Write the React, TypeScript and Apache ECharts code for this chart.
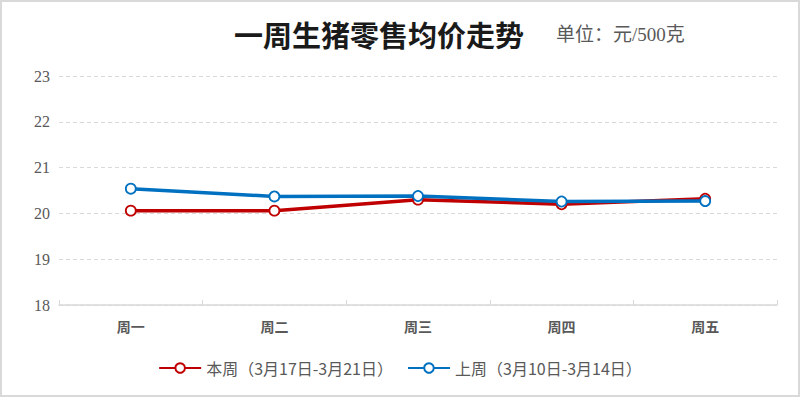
import React, { useEffect, useRef } from "react";
import * as echarts from "echarts";

const categories = ["周一", "周二", "周三", "周四", "周五"];
const thisWeek = [20.06, 20.06, 20.3, 20.2, 20.32];
const lastWeek = [20.54, 20.37, 20.38, 20.26, 20.27];
const seriesNames = ["本周（3月17日-3月21日）", "上周（3月10日-3月14日）"];
const titleText = "一周生猪零售均价走势";
const unitText = "单位：元/500克";

export default function App() {
  const ref = useRef<HTMLDivElement>(null);
  useEffect(() => {
    if (!ref.current) return;
    const chart = echarts.init(ref.current, null, { renderer: "svg" });
    const cjk = "'Noto Sans CJK SC', sans-serif";
    const serif = "'Liberation Serif', 'Noto Sans CJK SC', serif";
    const mkSeries = (name: string, data: number[], color: string) => ({
      name,
      type: "line",
      data,
      symbol: "circle",
      symbolSize: 10,
      showSymbol: true,
      lineStyle: { color, width: 3.5 },
      itemStyle: { color: "#ffffff", borderColor: color, borderWidth: 1.8 },
      z: name === seriesNames[0] ? 2 : 3,
    });
    chart.setOption({
      animation: false,
      backgroundColor: "#ffffff",
      graphic: [
        {
          type: "rect",
          shape: { x: 1, y: 1, width: 798, height: 395 },
          style: { fill: "none", stroke: "#d9d9d9", lineWidth: 2 },
          silent: true,
        },
        {
          type: "text",
          left: 234,
          top: 19,
          style: {
            text: titleText,
            font: `bold 29px ${cjk}`,
            fill: "#1a1a1a",
          },
        },
        {
          type: "text",
          left: 556,
          top: 25,
          style: {
            text: unitText,
            font: `19px ${serif}`,
            fill: "#595959",
          },
        },
      ],
      grid: { left: 59, right: 23, top: 76, bottom: 92, containLabel: false },
      legend: {
        bottom: 16,
        left: "center",
        itemGap: 14,
        itemWidth: 42,
        itemHeight: 12,
        textStyle: { fontFamily: cjk, fontSize: 16, color: "#595959" },
        data: seriesNames,
      },
      xAxis: {
        type: "category",
        data: categories,
        boundaryGap: true,
        axisLine: { lineStyle: { color: "#d9d9d9", width: 1.5 } },
        axisTick: { show: true, inside: true, length: 5, lineStyle: { color: "#d9d9d9" } },
        axisLabel: { fontFamily: cjk, fontSize: 14, color: "#595959", margin: 14, fontWeight: "bold" },
      },
      yAxis: {
        type: "value",
        min: 18,
        max: 23,
        interval: 1,
        axisLine: { show: false },
        axisTick: { show: false },
        axisLabel: { fontFamily: serif, fontSize: 16, color: "#595959", margin: 9 },
        splitLine: { lineStyle: { color: "#d9d9d9", type: [4, 3] } },
      },
      series: [
        mkSeries(seriesNames[0], thisWeek, "#c00000"),
        mkSeries(seriesNames[1], lastWeek, "#0070c0"),
      ],
    });
    return () => chart.dispose();
  }, []);
  return (
    <div
      ref={ref}
      style={{ position: "absolute", left: 0, top: 0, width: 800, height: 397 }}
    />
  );
}
